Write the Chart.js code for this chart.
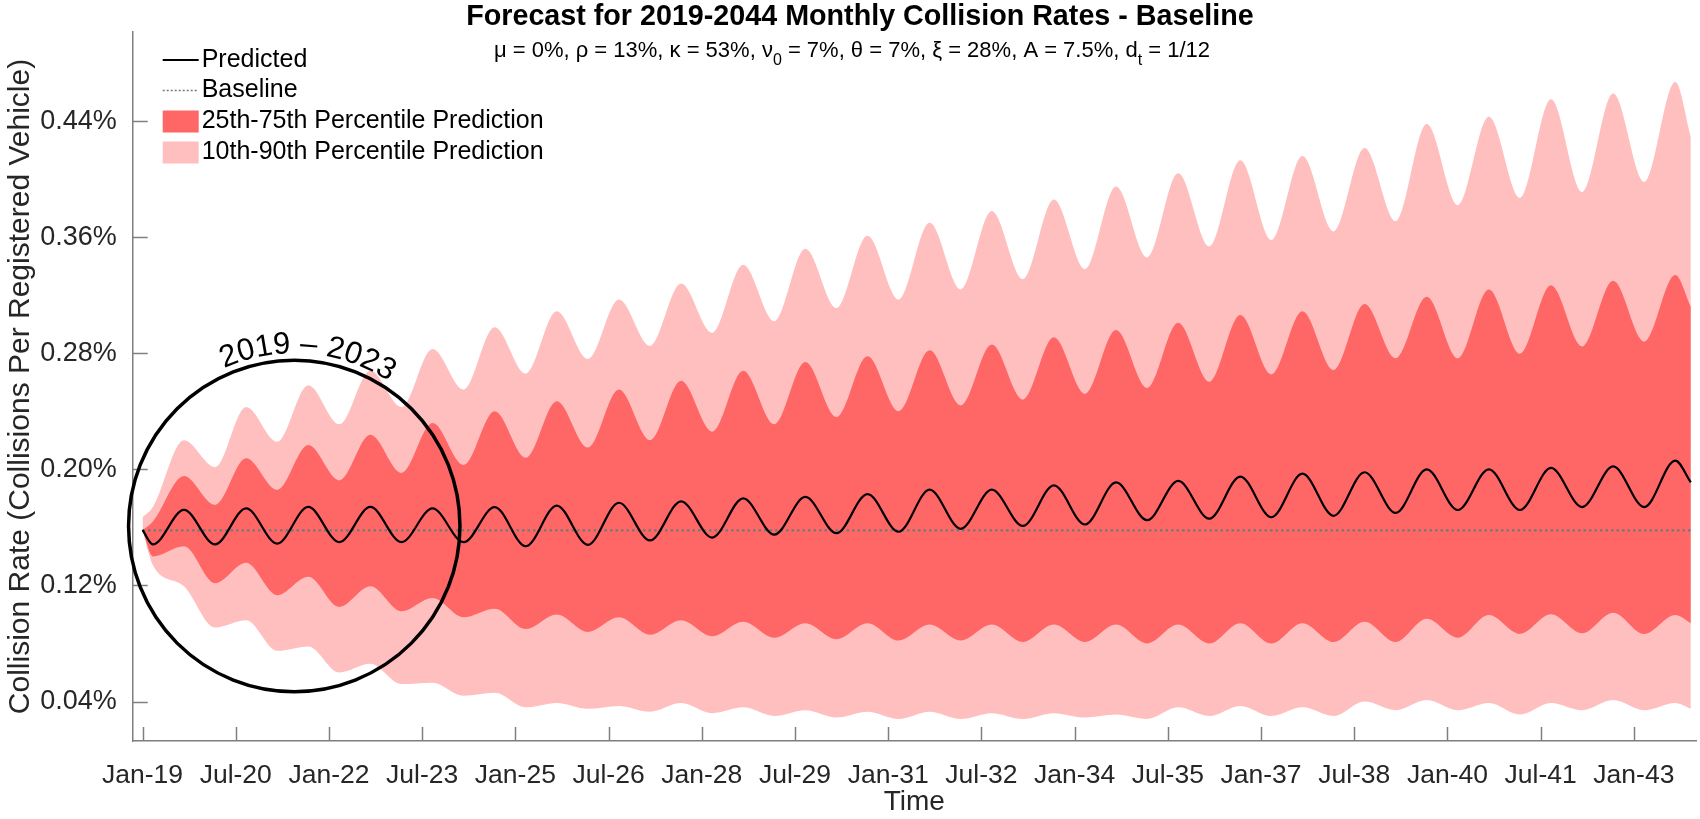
<!DOCTYPE html>
<html>
<head>
<meta charset="utf-8">
<script src="https://cdn.jsdelivr.net/npm/chart.js@4.4.1/dist/chart.umd.min.js"></script>
<style>
  html, body { margin: 0; padding: 0; background: #fff; }
</style>
</head>
<body>
<canvas id="chart" width="1700" height="819"></canvas>
<script>
// months after Jan-2019, sampled at the seasonal lows (Mar) and highs (Sep)
const months = [0, 2, 8, 14, 20, 26, 32, 38, 44, 50, 56, 62, 68, 74, 80, 86, 92, 98, 104, 110,
  116, 122, 128, 134, 140, 146, 152, 158, 164, 170, 176, 182, 188, 194, 200, 206, 212, 218, 224,
  230, 236, 242, 248, 254, 260, 266, 272, 278, 284, 290, 296, 299];

// collision rate in % per registered vehicle
const p90 = [0.167, 0.174, 0.220, 0.2015, 0.243, 0.219, 0.258, 0.231, 0.268, 0.243, 0.283, 0.255,
  0.298, 0.266, 0.309, 0.276, 0.317, 0.285, 0.328, 0.294, 0.341, 0.302, 0.352, 0.311, 0.361, 0.317,
  0.370, 0.324, 0.378, 0.331, 0.386, 0.338, 0.395, 0.346, 0.404, 0.3535, 0.413, 0.358, 0.416, 0.364,
  0.4215, 0.371, 0.438, 0.382, 0.443, 0.387, 0.455, 0.391, 0.459, 0.398, 0.467, 0.429];
const p75 = [0.158, 0.164, 0.1954, 0.1755, 0.2076, 0.1858, 0.2167, 0.1924, 0.2238, 0.1975, 0.2319, 0.203,
  0.240, 0.208, 0.247, 0.215, 0.255, 0.220, 0.261, 0.226, 0.268, 0.231, 0.274, 0.236, 0.278, 0.240,
  0.282, 0.244, 0.286, 0.248, 0.291, 0.252, 0.296, 0.256, 0.301, 0.2603, 0.3064, 0.2654, 0.309, 0.2684,
  0.314, 0.2765, 0.319, 0.2765, 0.324, 0.2796, 0.3268, 0.2846, 0.330, 0.288, 0.334, 0.312];
const predicted = [0.1582, 0.1483, 0.1721, 0.1483, 0.1731, 0.1488, 0.1741, 0.1498, 0.1741, 0.1498, 0.1731, 0.1498,
  0.174, 0.147, 0.175, 0.148, 0.177, 0.151, 0.178, 0.153, 0.180, 0.155, 0.181, 0.156, 0.183, 0.157,
  0.186, 0.159, 0.186, 0.161, 0.189, 0.162, 0.191, 0.165, 0.192, 0.166, 0.195, 0.167, 0.197, 0.168,
  0.198, 0.170, 0.200, 0.172, 0.200, 0.172, 0.201, 0.174, 0.202, 0.174, 0.206, 0.191];
const p25 = [0.158, 0.140, 0.147, 0.1215, 0.1356, 0.1133, 0.126, 0.1052, 0.1194, 0.1022, 0.1113, 0.0981,
  0.104, 0.090, 0.100, 0.088, 0.098, 0.086, 0.096, 0.085, 0.095, 0.084, 0.094, 0.083, 0.094, 0.082,
  0.093, 0.082, 0.093, 0.081, 0.093, 0.081, 0.093, 0.080, 0.093, 0.080, 0.094, 0.080, 0.094, 0.081,
  0.095, 0.081, 0.097, 0.084, 0.0996, 0.0866, 0.1001, 0.087, 0.1012, 0.0865, 0.0996, 0.094];
const p10 = [0.158, 0.134, 0.1195, 0.091, 0.096, 0.075, 0.078, 0.060, 0.066, 0.052, 0.053, 0.044,
  0.046, 0.036, 0.039, 0.035, 0.037, 0.033, 0.039, 0.032, 0.036, 0.030, 0.034, 0.029, 0.033, 0.028,
  0.033, 0.028, 0.032, 0.028, 0.032, 0.029, 0.031, 0.028, 0.036, 0.030, 0.037, 0.030, 0.036, 0.030,
  0.040, 0.034, 0.041, 0.034, 0.039, 0.031, 0.039, 0.034, 0.041, 0.034, 0.039, 0.035];
const baselineRate = 0.158;

const yTicks = [0.04, 0.12, 0.20, 0.28, 0.36, 0.44];
const xTickMonths = [0, 18, 36, 54, 72, 90, 108, 126, 144, 162, 180, 198, 216, 234, 252, 270, 288];
const xTickLabels = ['Jan-19', 'Jul-20', 'Jan-22', 'Jul-23', 'Jan-25', 'Jul-26', 'Jan-28', 'Jul-29',
  'Jan-31', 'Jul-32', 'Jan-34', 'Jul-35', 'Jan-37', 'Jul-38', 'Jan-40', 'Jul-41', 'Jan-43'];

const FONT = "'Liberation Sans', Arial, Helvetica, sans-serif";
const AXIS_GRAY = '#7f7f7f';
const TEXT_GRAY = '#262626';
const DARK_RED = '#ff6666';
const LIGHT_RED = '#ffbfbf';
const DOT_GRAY = '#6e7b7b';

const points = arr => months.map((m, i) => ({ x: m, y: arr[i] }));

// inward tick marks, MATLAB style
const tickMarks = {
  id: 'tickMarks',
  afterDatasetsDraw(chart) {
    const { ctx, chartArea: a, scales: { x, y } } = chart;
    ctx.save();
    ctx.strokeStyle = AXIS_GRAY;
    ctx.lineWidth = 1.5;
    ctx.beginPath();
    yTicks.forEach(v => {
      const py = Math.round(y.getPixelForValue(v)) + 0.5;
      ctx.moveTo(a.left, py);
      ctx.lineTo(a.left + 15, py);
    });
    xTickMonths.forEach(m => {
      const px = Math.round(x.getPixelForValue(m)) + 0.5;
      ctx.moveTo(px, a.bottom);
      ctx.lineTo(px, a.bottom - 14);
    });
    ctx.stroke();
    ctx.restore();
  }
};

// circle round the first five years, with its label bent along the top
const circleNote = {
  id: 'circleNote',
  afterDatasetsDraw(chart) {
    const { ctx, scales: { x, y } } = chart;
    const cx = x.getPixelForValue(29.3);
    const cy = y.getPixelForValue(0.1610);
    const r = x.getPixelForValue(32) - x.getPixelForValue(0);
    ctx.save();
    ctx.strokeStyle = '#000';
    ctx.lineWidth = 3.5;
    ctx.beginPath();
    ctx.arc(cx, cy, r, 0, Math.PI * 2);
    ctx.stroke();

    const text = '2019 \u2013 2023';
    ctx.font = '31px ' + FONT;
    ctx.fillStyle = '#000';
    ctx.textAlign = 'center';
    ctx.textBaseline = 'alphabetic';
    const R = r + 7;
    const total = ctx.measureText(text).width;
    let a = -Math.PI / 2 + 0.08 - total / (2 * R);
    for (const ch of text) {
      const w = ctx.measureText(ch).width;
      const ang = a + w / (2 * R);
      ctx.save();
      ctx.translate(cx + R * Math.cos(ang), cy + R * Math.sin(ang));
      ctx.rotate(ang + Math.PI / 2);
      ctx.fillText(ch, 0, 0);
      ctx.restore();
      a += w / R;
    }
    ctx.restore();
  }
};

// title, subtitle with subscripts, and legend
const headings = {
  id: 'headings',
  afterDraw(chart) {
    const { ctx, chartArea: a } = chart;
    ctx.save();
    ctx.fillStyle = '#000';
    ctx.textBaseline = 'alphabetic';
    ctx.textAlign = 'center';
    ctx.font = 'bold 28.7px ' + FONT;
    ctx.fillText('Forecast for 2019-2044 Monthly Collision Rates - Baseline', 860, 25);

    const parts = [
      ['\u03bc = 0%, \u03c1 = 13%, \u03ba = 53%, \u03bd', false],
      ['0', true],
      [' = 7%, \u03b8 = 7%, \u03be = 28%, A = 7.5%, d', false],
      ['t', true],
      [' = 1/12', false]
    ];
    const mainFont = '22px ' + FONT, subFont = '16px ' + FONT;
    let width = 0;
    parts.forEach(([s, sub]) => { ctx.font = sub ? subFont : mainFont; width += ctx.measureText(s).width; });
    let px = 852 - width / 2;
    ctx.textAlign = 'left';
    parts.forEach(([s, sub]) => {
      ctx.font = sub ? subFont : mainFont;
      ctx.fillText(s, px, sub ? 65 : 57);
      px += ctx.measureText(s).width;
    });

    // legend
    const x0 = a.left + 30, x1 = a.left + 66;
    const rows = [60, 90.5, 121.5, 152.5];
    ctx.lineWidth = 2.2;
    ctx.strokeStyle = '#000';
    ctx.beginPath(); ctx.moveTo(x0, rows[0]); ctx.lineTo(x1, rows[0]); ctx.stroke();
    ctx.lineWidth = 1.5;
    ctx.strokeStyle = DOT_GRAY;
    ctx.setLineDash([2, 2]);
    ctx.beginPath(); ctx.moveTo(x0, rows[1]); ctx.lineTo(x1, rows[1]); ctx.stroke();
    ctx.setLineDash([]);
    ctx.fillStyle = DARK_RED;
    ctx.fillRect(x0, rows[2] - 11, x1 - x0, 22);
    ctx.fillStyle = LIGHT_RED;
    ctx.fillRect(x0, rows[3] - 11, x1 - x0, 22);
    ctx.fillStyle = '#000';
    ctx.font = '25px ' + FONT;
    ctx.textBaseline = 'middle';
    ['Predicted', 'Baseline', '25th-75th Percentile Prediction', '10th-90th Percentile Prediction']
      .forEach((t, i) => ctx.fillText(t, x1 + 3, rows[i]));
    ctx.restore();
  }
};

new Chart(document.getElementById('chart'), {
  type: 'line',
  data: {
    datasets: [
      { label: 'Predicted', data: points(predicted), borderColor: '#000', borderWidth: 2.2,
        pointRadius: 0, fill: false, cubicInterpolationMode: 'monotone' },
      { label: 'Baseline', data: [{ x: months[0], y: baselineRate }, { x: months[months.length - 1], y: baselineRate }],
        borderColor: DOT_GRAY, borderWidth: 2.2, borderDash: [2.5, 3], pointRadius: 0, fill: false },
      { label: '25th-75th Percentile Prediction', data: points(p75), borderWidth: 0, borderColor: 'rgba(0,0,0,0)',
        backgroundColor: DARK_RED, pointRadius: 0, fill: '+1', cubicInterpolationMode: 'monotone' },
      { label: '25th', data: points(p25), borderWidth: 0, borderColor: 'rgba(0,0,0,0)',
        pointRadius: 0, fill: false, cubicInterpolationMode: 'monotone' },
      { label: '10th-90th Percentile Prediction', data: points(p90), borderWidth: 0, borderColor: 'rgba(0,0,0,0)',
        backgroundColor: LIGHT_RED, pointRadius: 0, fill: '+1', cubicInterpolationMode: 'monotone' },
      { label: '10th', data: points(p10), borderWidth: 0, borderColor: 'rgba(0,0,0,0)',
        pointRadius: 0, fill: false, cubicInterpolationMode: 'monotone' }
    ]
  },
  options: {
    responsive: false,
    animation: false,
    devicePixelRatio: 1,
    layout: { padding: { top: 32, right: 4, left: 0, bottom: 0 } },
    plugins: {
      legend: { display: false },
      tooltip: { enabled: false }
    },
    scales: {
      x: {
        type: 'linear',
        min: -1.9,
        max: 300,
        grid: { display: false },
        border: { color: AXIS_GRAY, width: 1.5 },
        afterBuildTicks: s => { s.ticks = xTickMonths.map(v => ({ value: v })); },
        afterFit: s => { s.height = 78; },
        ticks: {
          autoSkip: false, maxRotation: 0, minRotation: 0, padding: 11,
          color: TEXT_GRAY, font: { size: 26.5, family: FONT },
          callback: (v, i) => xTickLabels[i]
        },
        title: { display: true, text: 'Time', color: TEXT_GRAY, font: { size: 28, family: FONT }, padding: { top: 0, bottom: 0 } }
      },
      y: {
        min: 0.0128,
        max: 0.5014,
        grid: { display: false },
        border: { color: AXIS_GRAY, width: 1.5 },
        afterBuildTicks: s => { s.ticks = yTicks.map(v => ({ value: v })); },
        afterFit: s => { s.width = 132.7; },
        ticks: {
          padding: 8, color: TEXT_GRAY, font: { size: 27, family: FONT },
          callback: v => v.toFixed(2) + '%'
        },
        title: { display: true, text: 'Collision Rate (Collisions Per Registered Vehicle)', color: TEXT_GRAY,
          font: { size: 30, family: FONT }, padding: { top: 3, bottom: 0 } }
      }
    }
  },
  plugins: [tickMarks, circleNote, headings]
});
</script>
</body>
</html>
